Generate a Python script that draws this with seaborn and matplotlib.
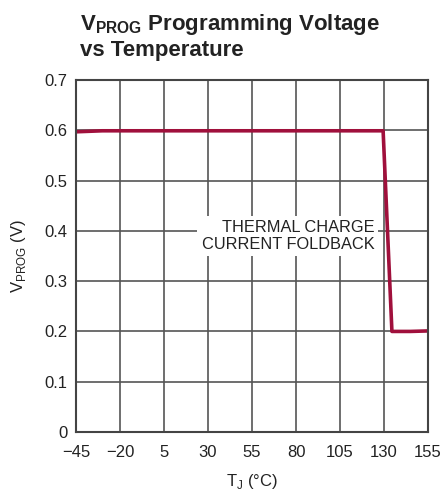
import matplotlib
matplotlib.use("Agg")
import matplotlib.pyplot as plt
import seaborn as sns
import pandas as pd

temps = [-45, -30, 0, 50, 100, 129.5, 134.5, 145, 155]
vprog = [0.597, 0.599, 0.599, 0.599, 0.599, 0.599, 0.200, 0.200, 0.201]
x_ticks = [-45, -20, 5, 30, 55, 80, 105, 130, 155]
x_labels = ["\u221245", "\u221220", "5", "30", "55", "80", "105", "130", "155"]
y_ticks = [0, 0.1, 0.2, 0.3, 0.4, 0.5, 0.6, 0.7]
y_labels = ["0", "0.1", "0.2", "0.3", "0.4", "0.5", "0.6", "0.7"]

sns.set_style("white")
plt.rcParams["font.family"] = ["Liberation Sans", "DejaVu Sans"]
plt.rcParams["mathtext.fontset"] = "custom"
plt.rcParams["mathtext.rm"] = "Liberation Sans"
plt.rcParams["mathtext.bf"] = "Liberation Sans:bold"

df = pd.DataFrame({"T": temps, "V": vprog})

fig = plt.figure(figsize=(4.43, 4.94), dpi=100)
ax = fig.add_axes([76 / 443, 1 - 432 / 494, 352 / 443, 352 / 494])

sns.lineplot(data=df, x="T", y="V", ax=ax, color="#a0103c", linewidth=2.6,
             estimator=None, sort=False)

ax.set_xlim(-45, 155)
ax.set_ylim(0, 0.7)
ax.set_xticks(x_ticks)
ax.set_xticklabels(x_labels)
ax.set_yticks(y_ticks)
ax.set_yticklabels(y_labels)
ax.tick_params(axis="both", length=0, labelsize=12, colors="#222222")
ax.tick_params(axis="x", pad=9)
ax.tick_params(axis="y", pad=6)
ax.grid(True, color="#555555", linewidth=1.2)
for s in ax.spines.values():
    s.set_color("#444444")
    s.set_linewidth(1.5)

ax.set_xlabel(r"T$_\mathrm{J}$ (°C)", fontsize=12, color="#222222", labelpad=9)
ax.set_ylabel(r"V$_\mathrm{PROG}$ (V)", fontsize=12, color="#222222", labelpad=12)

ax.text(124.5, 0.39, "THERMAL CHARGE\nCURRENT FOLDBACK", ha="right", va="center",
        fontsize=11.8, color="#222222", linespacing=1.15,
        bbox=dict(facecolor="white", edgecolor="none", pad=3))

fig.text(80 / 443, 1 - 61 / 494, r"V$_\mathbf{PROG}$ Programming Voltage" + "\nvs Temperature",
         fontsize=16, fontweight="bold", ha="left", va="bottom", color="#222222",
         linespacing=1.2)

fig.savefig("out.png", dpi=100)
